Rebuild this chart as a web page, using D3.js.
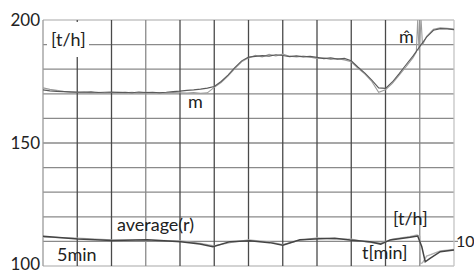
<!DOCTYPE html>
<html><head><meta charset="utf-8">
<script src="https://cdn.jsdelivr.net/npm/d3@7"></script>
<style>
html,body{margin:0;padding:0;background:#fff;}
svg{display:block;}
text{font-family:Lato,"Open Sans",sans-serif;fill:#222;}
</style></head>
<body>
<svg id="chart" width="474" height="273"></svg>
<script>
// time in minutes (12 grid columns of 5 min)
const timeTicks = [0,5,10,15,20,25,30,35,40,45,50,55,60];
const valueTicks = [100,110,120,130,140,150,160,170,180,190,200];
const yLabels = [100,150,200];

// measured mass flow m [t/h]
const tM = [0,1,2,3,4,5,6,7,8,9,10,11,12,13,14,15,16,17,18,19,20,21,22,23,24,25,26,27,28,29,30,31,32,33,34,35,36,37,38,39,40,41,42,43,44,45,46,47,48,49,50,51,52,53,54,55,56,57,58,59,60];
const mVals = [171.6,171.2,171.0,170.9,170.8,170.7,170.6,170.8,170.5,170.6,170.7,170.5,170.6,170.4,170.7,170.5,170.6,170.4,170.6,170.9,171.1,171.4,171.6,171.9,172.3,173.0,175.0,177.6,180.6,183.4,184.9,185.2,185.5,185.3,185.9,185.6,185.1,185.4,185.0,185.2,184.8,184.3,184.6,184.1,184.4,183.4,180.8,178.4,175.6,172.4,172.2,174.8,178.2,181.8,185.3,189.2,193.0,195.8,196.5,196.4,196.1];

// estimated mass flow m^ [t/h]
const tMh = [0,1,2,3,4,5,6,7,8,9,10,11,12,13,14,15,16,17,18,19,20,21,22,23,24,25,26,27,28,29,30,31,32,33,34,35,36,37,38,39,40,41,42,43,44,45,46,47,48,49,50,51,52,53,54,54.5,54.7,54.9,55.2,55.4,56,57,58,59,60];
const mHatVals = [172.4,171.8,171.4,171.0,170.7,170.5,170.8,170.4,170.6,170.3,170.5,170.7,170.4,170.6,170.3,170.6,170.4,170.5,170.3,170.5,170.4,170.3,170.5,170.2,170.4,172.6,174.6,177.2,180.2,183.0,184.6,185.6,185.0,186.0,185.4,186.1,185.3,185.0,185.3,184.9,184.4,184.6,184.0,184.3,183.8,183.0,180.4,178.0,175.0,170.6,171.6,174.2,177.6,181.0,184.6,187.0,200.0,187.5,200.0,189.8,193.4,196.2,196.8,196.6,196.3];

// average(r), 5 min
const tR = [0,5.1,10.1,15.2,20.1,22.9,24.8,27.3,30.2,33.1,35.0,37.5,40.4,42.6,44.8,47.7,49.3,50.7,53.6,54.7,55.3,55.8,56.5,58.0,60];
const rAvg = [112.1,111.0,110.4,110.7,109.9,108.9,107.8,109.9,110.3,109.5,108.4,110.7,111.1,111.3,110.6,109.9,108.9,110.6,111.7,112.2,107.8,101.7,103.1,105.8,106.5];
// raw r
const tRr = [0,5,10,15,20,23,25,27.5,30,33,35,37.5,40,42.5,45,47.5,49.3,51,53.5,54.6,55.0,55.1,55.4,56.0,56.6,58,60];
const rRaw = [111.7,111.3,110.6,110.5,110.2,109.2,108.2,109.6,110.6,109.8,108.7,110.4,111.4,111.0,110.9,109.6,109.3,110.9,111.9,112.6,112.0,101.0,101.3,104.0,104.6,106.1,106.8];

const svg = d3.select("#chart");
const x = d3.scaleLinear().domain([0,60]).range([43,454]);
const y = d3.scaleLinear().domain([100,200]).range([266,20]);

// horizontal grid
svg.append("g").selectAll("line").data(valueTicks).join("line")
  .attr("x1", x(0)).attr("x2", d => d===110 ? x(60)+4 : x(60))
  .attr("y1", d => y(d)).attr("y2", d => y(d))
  .attr("stroke", d => (d===200||d===100) ? "#c4c4c4" : "#8a8a8a")
  .attr("stroke-width", 1.3);

// vertical grid
svg.append("g").selectAll("line").data(timeTicks).join("line")
  .attr("x1", d => x(d)).attr("x2", d => x(d))
  .attr("y1", y(200)).attr("y2", y(100))
  .attr("stroke", d => d===60 ? "#c4c4c4" : (d===0 ? "#9a9a9a" : (d===15||d===55 ? "#8a8a8a" : "#4a4a4a")))
  .attr("stroke-width", 1.3);

// white patch behind top [t/h] label
svg.append("rect").attr("x", x(0)+4).attr("y", y(200)+2).attr("width", 42).attr("height", 35).attr("fill", "#fff");

const line = (ts, vs) => d3.line().x((d,i) => x(ts[i])).y(d => y(d))(vs);

svg.append("path").attr("d", line(tMh, mHatVals)).attr("fill","none").attr("stroke","#9c9c9c").attr("stroke-width",1.1);
svg.append("path").attr("d", line(tM, mVals)).attr("fill","none").attr("stroke","#5a5a5a").attr("stroke-width",1.1);
svg.append("path").attr("d", line(tRr, rRaw)).attr("fill","none").attr("stroke","#b0b0b0").attr("stroke-width",1.3);
svg.append("path").attr("d", line(tR, rAvg)).attr("fill","none").attr("stroke","#444").attr("stroke-width",1.5);

// y axis labels
const ax = d3.axisLeft(y).tickValues(yLabels).tickSize(0).tickPadding(3).tickFormat(d3.format("d"));
const gA = svg.append("g").attr("transform", `translate(${x(0)},0)`).call(ax);
gA.select(".domain").remove();
gA.selectAll("text").style("font-size","17px").style("font-family","Lato, sans-serif").attr("fill","#222")
  .attr("dy", d => d===100 ? "0.2em" : "0.32em");

function label(t, px, py, size, anchor){
  svg.append("text").attr("x", px).attr("y", py).attr("text-anchor", anchor||"start")
    .style("font-size", size+"px").text(t);
}
label("[t/h]", 51, 46, 18);
label("m", 188, 108, 18);
label("m\u0302", 399, 43, 18);
label("average(r)", 117, 231, 18);
label("5min", 57, 261, 18);
label("[t/h]", 393, 225, 18);
label("t[min]", 362, 259, 18);
label("10", 456, 247, 16);
</script>
</body></html>
